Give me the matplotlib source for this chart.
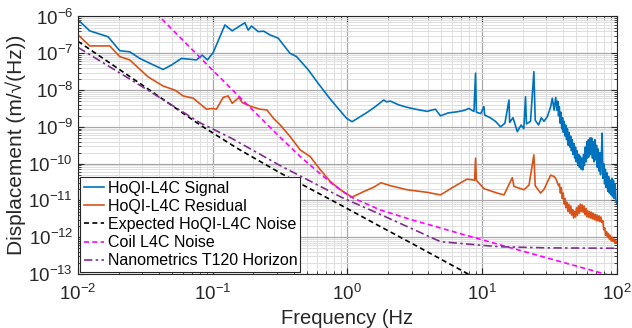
import matplotlib
matplotlib.use("Agg")
import matplotlib.pyplot as plt
import numpy as np

plt.rcParams["font.family"] = ["Liberation Sans", "DejaVu Sans"]
plt.rcParams["axes.unicode_minus"] = False
plt.rcParams["mathtext.fontset"] = "custom"
plt.rcParams["mathtext.rm"] = "Liberation Sans"

# values, as log10(frequency) and log10(displacement)
sig_logf = [-2.0, -1.913, -1.777, -1.69, -1.616, -1.541, -1.45, -1.368, -1.306, -1.232,
            -1.12, -1.078, -1.039, -0.996, -0.909, -0.855, -0.786, -0.761, -0.736, -0.711,
            -0.662, -0.62, -0.575, -0.513, -0.426, -0.377, -0.29, -0.216, -0.141, -0.08,
            -0.005, 0.035, 0.097, 0.15, 0.208, 0.25, 0.27, 0.29, 0.32, 0.38,
            0.444, 0.52, 0.593, 0.62, 0.654, 0.691, 0.75, 0.816, 0.87, 0.902,
            0.94, 0.952, 0.958, 0.99, 1.014, 1.02, 1.06, 1.10, 1.138, 1.17,
            1.2, 1.205, 1.23, 1.262, 1.29, 1.31, 1.323, 1.33, 1.36, 1.385,
            1.395, 1.42, 1.44, 1.46, 1.485, 1.51, 1.522, 1.535, 1.547,
            1.556, 1.562, 1.568, 1.574, 1.58, 1.586, 1.592, 1.598, 1.604, 1.61,
            1.616, 1.622, 1.628, 1.634, 1.64, 1.646, 1.652, 1.658, 1.664, 1.67,
            1.676, 1.682, 1.688, 1.694, 1.70, 1.706, 1.712, 1.718, 1.724, 1.73,
            1.736, 1.742, 1.748, 1.754, 1.76, 1.766, 1.772, 1.778, 1.784, 1.79,
            1.796, 1.802, 1.808, 1.814, 1.82, 1.826, 1.832, 1.838, 1.844, 1.85,
            1.856, 1.862, 1.868, 1.874, 1.88, 1.886, 1.892, 1.898, 1.904, 1.91,
            1.916, 1.922, 1.928, 1.934, 1.94, 1.946, 1.952, 1.958, 1.964, 1.97,
            1.976, 1.982, 1.988, 1.994, 2.0]
sig_logd = [-6.09, -6.39, -6.55, -6.93, -6.96, -7.14, -7.30, -7.44, -7.32, -7.14,
            -7.18, -7.05, -7.18, -6.98, -6.23, -6.39, -6.23, -6.17, -6.37, -6.26,
            -6.41, -6.40, -6.50, -6.59, -7.00, -7.09, -7.45, -7.82, -8.18, -8.45,
            -8.77, -8.86, -8.72, -8.60, -8.45, -8.33, -8.27, -8.32, -8.30, -8.40,
            -8.47, -8.53, -8.58, -8.55, -8.52, -8.70, -8.62, -8.59, -8.55, -8.50,
            -8.58, -7.54, -8.60, -8.64, -8.45, -8.68, -8.75, -8.85, -9.00, -8.90,
            -8.27, -8.88, -8.75, -9.13, -8.95, -9.05, -8.18, -8.92, -8.85, -7.50,
            -8.82, -8.95, -8.75, -8.85, -8.72, -8.45, -8.22, -8.55, -8.20,
            -8.55, -8.30, -8.70, -8.45, -8.90, -8.60, -9.05, -8.75, -9.15, -8.85,
            -9.25, -8.95, -9.35, -9.05, -9.50, -9.15, -9.55, -9.25, -9.65, -9.35,
            -9.75, -9.45, -9.85, -9.55, -9.95, -9.65, -10.05, -9.75, -10.10, -9.80,
            -10.15, -9.85, -10.17, -9.75, -10.05, -9.55, -9.95, -9.40, -9.85, -9.35,
            -9.80, -9.30, -9.75, -9.30, -9.85, -9.40, -9.95, -9.35, -9.90, -9.50,
            -10.10, -9.60, -10.20, -9.70, -10.30, -9.80, -9.17, -10.40, -10.00, -10.55,
            -10.15, -10.65, -10.25, -10.75, -10.35, -10.80, -10.45, -10.85, -10.40, -10.90,
            -10.45, -10.95, -10.55, -11.00, -11.07]

res_logf = [-2.0, -1.913, -1.764, -1.69, -1.616, -1.48, -1.368, -1.281, -1.219, -1.145,
            -1.046, -1.009, -0.972, -0.922, -0.885, -0.855, -0.805, -0.781, -0.711, -0.649,
            -0.597, -0.548, -0.498, -0.424, -0.349, -0.275, -0.2, -0.126, -0.052, 0.035,
            0.121, 0.196, 0.25, 0.32, 0.444, 0.593, 0.691, 0.79, 0.889, 0.945,
            0.952, 0.958, 1.014, 1.113, 1.163, 1.225, 1.237, 1.312, 1.349, 1.385,
            1.395, 1.435, 1.46, 1.51, 1.534, 1.547, 1.568,
            1.575, 1.582, 1.589, 1.596, 1.603, 1.61, 1.617, 1.624, 1.631, 1.638,
            1.645, 1.652, 1.659, 1.666, 1.673, 1.68, 1.687, 1.694, 1.701, 1.708,
            1.715, 1.722, 1.729, 1.736, 1.743, 1.75, 1.757, 1.764, 1.771, 1.778,
            1.785, 1.792, 1.799, 1.806, 1.813, 1.82, 1.827, 1.834, 1.841, 1.848,
            1.855, 1.862, 1.869, 1.876, 1.883, 1.89, 1.897, 1.904, 1.911, 1.918,
            1.925, 1.932, 1.939, 1.946, 1.953, 1.96, 1.967, 1.974, 1.981, 1.988,
            1.995, 2.0]
res_logd = [-6.50, -6.80, -6.80, -7.09, -7.18, -7.64, -7.89, -8.00, -8.16, -8.22,
            -8.52, -8.50, -8.52, -8.20, -8.16, -8.36, -8.20, -8.34, -8.45, -8.52,
            -8.54, -8.77, -8.95, -9.27, -9.63, -9.81, -10.17, -10.49, -10.71, -10.91,
            -10.76, -10.64, -10.52, -10.60, -10.71, -10.78, -10.85, -10.63, -10.42, -10.45,
            -9.85, -10.45, -10.68, -10.80, -10.85, -10.38, -10.62, -10.71, -10.58, -9.76,
            -10.60, -10.80, -10.70, -10.31, -10.35, -10.40, -10.60,
            -10.55, -10.80, -10.65, -10.95, -10.80, -11.10, -10.95, -11.20, -11.05, -11.30,
            -11.10, -11.35, -11.15, -11.40, -11.25, -11.48, -11.30, -11.45, -11.20, -11.40,
            -11.15, -11.35, -11.10, -11.30, -11.12, -11.32, -11.15, -11.38, -11.22, -11.44,
            -11.28, -11.46, -11.30, -11.48, -11.32, -11.50, -11.35, -11.52, -11.38, -11.55,
            -11.40, -11.56, -11.42, -11.58, -11.45, -11.60, -11.55, -11.80, -11.75, -11.95,
            -11.85, -12.00, -11.90, -12.05, -11.95, -12.10, -12.00, -12.12, -12.05, -12.15,
            -12.10, -12.16]

exp_logf = [-2.0, -1.5, -1.093, -0.81, -0.5, -0.052, 0.245, 0.5, 0.897, 1.0]
exp_logd = [-6.675, -7.92, -8.95, -9.60, -10.25, -11.12, -11.71, -12.21, -13.0, -13.2]

coil_logf = [-1.42, -1.0, -0.5, -0.349, -0.2, -0.1, 0.022, 0.245, 0.5, 1.0, 1.5, 1.893, 2.0]
coil_logd = [-5.91, -7.46, -9.28, -9.81, -10.28, -10.58, -10.90, -11.26, -11.55, -12.07, -12.58, -12.98, -13.1]

t120_logf = [-2.0, -1.5, -1.093, -0.86, -0.5, -0.052, 0.196, 0.444, 0.691, 1.0, 1.138, 1.5, 2.0]
t120_logd = [-6.84, -7.96, -8.89, -9.31, -10.05, -10.90, -11.30, -11.71, -12.12, -12.22, -12.26, -12.29, -12.30]

series = [
    (sig_logf, sig_logd, "HoQI-L4C Signal", "#0072BD", "-"),
    (res_logf, res_logd, "HoQI-L4C Residual", "#D95319", "-"),
    (exp_logf, exp_logd, "Expected HoQI-L4C Noise", "black", (0, (3, 2))),
    (coil_logf, coil_logd, "Coil L4C Noise", "#FF00FF", (0, (3, 2))),
    (t120_logf, t120_logd, "Nanometrics T120 Horizon", "#7E2F8E", (0, (5, 2, 1.5, 2))),
]

fig = plt.figure(figsize=(6.32, 3.28), dpi=100)
ax = fig.add_axes([0.1234, 0.1646, 0.8524, 0.7851])
for lf, ld, label, color, ls in series:
    ax.plot(10 ** np.array(lf), 10 ** np.array(ld), color=color, linestyle=ls, lw=1.2, label=label)

ax.set_xscale("log")
ax.set_yscale("log")
ax.set_xlim(1e-2, 1e2)
ax.set_ylim(1e-13, 1e-6)
ax.set_yticks([10.0 ** k for k in range(-13, -5)])
ax.yaxis.set_minor_locator(matplotlib.ticker.LogLocator(base=10, subs=np.arange(2, 10), numticks=20))
ax.xaxis.set_minor_locator(matplotlib.ticker.LogLocator(base=10, subs=np.arange(2, 10), numticks=20))

ax.grid(True, which="major", color="#a8a8a8", lw=0.9)
ax.grid(True, which="minor", color="#dedede", lw=0.7)
ax.set_axisbelow(True)

ax.tick_params(which="both", direction="in", top=True, right=True, colors="#262626",
               labelsize=13.5, labelcolor="#262626")
ax.tick_params(which="major", length=4)
ax.tick_params(which="minor", length=2)
ax.tick_params(axis="x", which="major", pad=7)
for s in ax.spines.values():
    s.set_color("#262626")
    s.set_linewidth(0.8)

ax.set_xlabel("Frequency (Hz", fontsize=14.5, color="#262626", labelpad=4)
ax.set_ylabel("Displacement (m/\u221a(Hz))", fontsize=15, color="#262626", labelpad=2)

leg = ax.legend(loc="lower left", fontsize=11.5, handlelength=1.3, handletextpad=0.2,
                labelspacing=0.2, borderpad=0.2, borderaxespad=0.15, fancybox=False,
                framealpha=1, edgecolor="#262626")
leg.get_frame().set_linewidth(0.8)

fig.savefig("out.png", dpi=100)
